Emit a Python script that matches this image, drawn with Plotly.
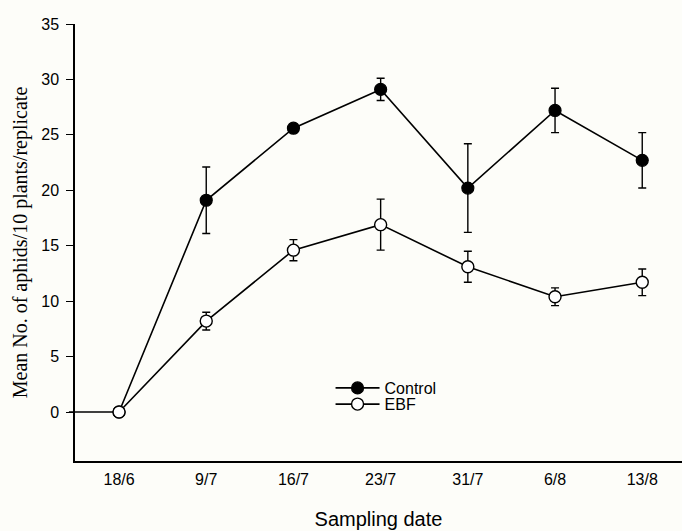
import plotly.graph_objects as go

# Sampling dates and aphid counts (mean per 10 plants per replicate)
dates = ["18/6", "9/7", "16/7", "23/7", "31/7", "6/8", "13/8"]
control_mean = [0, 19.1, 25.6, 29.1, 20.2, 27.2, 22.7]
control_err = [0, 3.0, 0.4, 1.0, 4.0, 2.0, 2.5]
ebf_mean = [0, 8.2, 14.6, 16.9, 13.1, 10.4, 11.7]
ebf_err = [0, 0.8, 0.95, 2.3, 1.4, 0.8, 1.2]
y_ticks = [0, 5, 10, 15, 20, 25, 30, 35]

x_idx = list(range(len(dates)))

fig = go.Figure()

err_style = dict(type="data", thickness=1.4, width=4, color="black")

fig.add_trace(go.Scatter(
    x=x_idx, y=control_mean, name="Control", mode="lines+markers",
    line=dict(color="black", width=1.6),
    marker=dict(symbol="circle", size=12, color="black",
                line=dict(color="black", width=1.2)),
    error_y=dict(array=control_err, visible=True, **err_style),
    legend="legend",
))
fig.add_trace(go.Scatter(
    x=x_idx, y=ebf_mean, name="EBF", mode="lines+markers",
    line=dict(color="black", width=1.6),
    marker=dict(symbol="circle", size=12, color="white",
                line=dict(color="black", width=1.4)),
    error_y=dict(array=ebf_err, visible=True, **err_style),
    legend="legend2",
))

# baseline segment from the axis to the first sampling date
fig.add_shape(type="line", xref="paper", yref="y", x0=-0.01, x1=0.0725,
              y0=0, y1=0, line=dict(color="black", width=1.4), layer="below")

legend_common = dict(xanchor="left", yanchor="middle", bgcolor="rgba(0,0,0,0)",
                     font=dict(size=16), itemwidth=44, borderwidth=0)

fig.update_layout(
    width=682, height=531,
    margin=dict(l=75, r=0, t=24, b=70),
    paper_bgcolor="#fdfdf9", plot_bgcolor="#fdfdf9",
    font=dict(family="Arial, Liberation Sans, sans-serif", size=16, color="black"),
    showlegend=True,
    legend=dict(x=0.421, y=0.167, **legend_common),
    legend2=dict(x=0.421, y=0.130, **legend_common),
    xaxis=dict(
        range=[-0.505, 6.456], tickmode="array", tickvals=x_idx, ticktext=dates,
        showgrid=False, zeroline=False, showline=True, linecolor="black",
        linewidth=1.5, ticks="", ticklabelstandoff=3,
        title=dict(text="Sampling date", standoff=25,
                   font=dict(family="Arial, Liberation Sans, sans-serif", size=20)),
    ),
    yaxis=dict(
        range=[-4.42, 35], tickmode="array", tickvals=y_ticks,
        showgrid=False, zeroline=False, showline=True, linecolor="black",
        linewidth=1.5, ticks="outside", ticklen=7, tickwidth=1.2,
        tickcolor="black", ticklabelstandoff=4,
        title=dict(text="Mean No. of aphids/10 plants/replicate", standoff=8,
                   font=dict(family="Times New Roman, Liberation Serif, serif",
                             size=20)),
    ),
)

fig.write_html("out.html")
